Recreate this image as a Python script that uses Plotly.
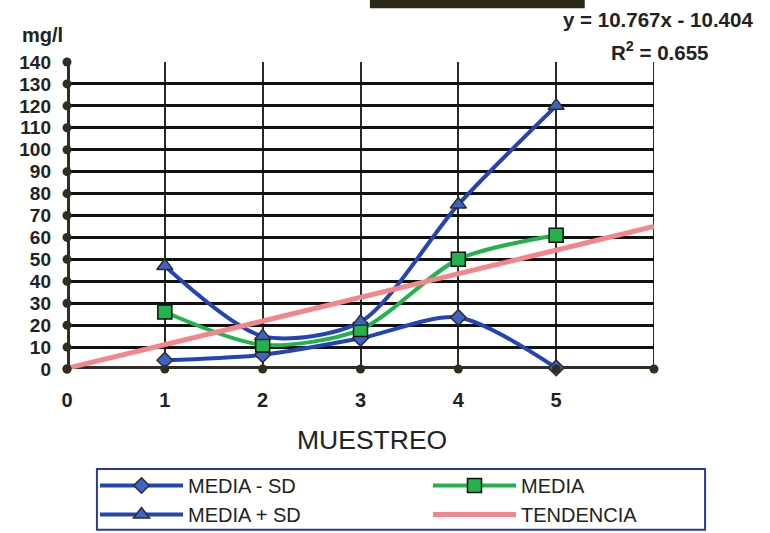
import plotly.graph_objects as go

# Sampling rounds and concentrations (mg/l)
muestreo = [1, 2, 3, 4, 5]
media_menos_sd = [4, 6.5, 14, 23.5, 0.5]
media = [26, 11, 18, 50, 61]
media_mas_sd = [47, 15, 21.5, 75, 120]

# Linear trend fitted on MEDIA (as reported)
slope = 10.767
intercept = -10.404
r2 = 0.655
x_max = 6
trend_x = [0, x_max]
trend_y = [slope * (x + 1) + intercept for x in trend_x]

x_ticks = [0, 1, 2, 3, 4, 5]
x_tick_labels = ["0", "1", "2", "3", "4", "5"]
y_ticks = list(range(0, 141, 10))

BLUE = "#2443b4"
GREEN = "#23b24c"
PINK = "#f2868a"
DARK = "#2e2e24"
FONT = "Liberation Sans, Arial, sans-serif"

fig = go.Figure()

fig.add_trace(go.Scatter(
    x=muestreo, y=media_menos_sd, name="MEDIA - SD", mode="lines+markers",
    line=dict(color=BLUE, width=4, shape="spline", smoothing=0.8),
    marker=dict(symbol="diamond", size=12, color="#3d62c8", line=dict(color=DARK, width=1.5)),
    cliponaxis=False, legend="legend",
))
fig.add_trace(go.Scatter(
    x=muestreo, y=media, name="MEDIA", mode="lines+markers",
    line=dict(color=GREEN, width=4, shape="spline", smoothing=0.8),
    marker=dict(symbol="square", size=14, color=GREEN, line=dict(color="#111", width=1.5)),
    cliponaxis=False, legend="legend2",
))
fig.add_trace(go.Scatter(
    x=muestreo, y=media_mas_sd, name="MEDIA + SD", mode="lines+markers",
    line=dict(color=BLUE, width=4, shape="spline", smoothing=0.8),
    marker=dict(symbol="triangle-up", size=14, color="#3d62c8", line=dict(color=DARK, width=1.5)),
    cliponaxis=False, legend="legend",
))
fig.add_trace(go.Scatter(
    x=trend_x, y=trend_y, name="TENDENCIA", mode="lines",
    line=dict(color=PINK, width=5),
    cliponaxis=False, legend="legend2",
))

# Rounded tick marks along both axes
dot_x = x_ticks + [x_max]
fig.add_trace(go.Scatter(
    x=dot_x, y=[0] * len(dot_x), mode="markers", showlegend=False, hoverinfo="skip",
    marker=dict(symbol="circle", size=9, color=DARK), cliponaxis=False,
))
fig.add_trace(go.Scatter(
    x=[0] * len(y_ticks), y=y_ticks, mode="markers", showlegend=False, hoverinfo="skip",
    marker=dict(symbol="circle", size=9, color=DARK), cliponaxis=False,
))

fig.update_xaxes(
    range=[0, x_max], tickvals=x_ticks, ticktext=x_tick_labels,
    showgrid=True, gridcolor="#2a2a22", gridwidth=2,
    showline=False, zeroline=False, ticks="", ticklabelstandoff=17,
    tickfont=dict(family=FONT, size=20, color="#222", weight="bold"),
)
fig.update_yaxes(
    range=[0, 140], tickvals=y_ticks,
    showgrid=True, gridcolor="#111", gridwidth=2.5,
    showline=False, zeroline=False, ticks="", ticklabelstandoff=15,
    tickfont=dict(family=FONT, size=19, color="#222", weight="bold"),
)

shapes = [
    # right edge of the plot area
    dict(type="line", xref="x", yref="y", x0=x_max, x1=x_max, y0=0, y1=140,
         line=dict(color="#2a2a22", width=2), layer="below"),
    # thick axis lines
    dict(type="line", xref="x", yref="y", x0=0, x1=x_max, y0=0, y1=0,
         line=dict(color=DARK, width=6), layer="below"),
    dict(type="line", xref="x", yref="y", x0=0, x1=0, y0=0, y1=140,
         line=dict(color=DARK, width=6), layer="below"),
    # title bar fragment at the top
    dict(type="rect", xref="paper", yref="paper", x0=0.516, x1=0.882, y0=1.175, y1=1.205,
         fillcolor="#2b2818", line=dict(width=0)),
    # legend frame
    dict(type="rect", xref="paper", yref="paper", x0=0.051, x1=1.087, y0=-0.524, y1=-0.3257,
         line=dict(color="#2a3a9a", width=2), fillcolor="rgba(0,0,0,0)"),
]

annotations = [
    dict(text="<b>mg/l</b>", xref="paper", yref="paper", x=-0.041, y=1.088,
         xanchor="center", yanchor="middle", showarrow=False,
         font=dict(family=FONT, size=20, color="#222")),
    dict(text="<b>y = 10.767x - 10.404</b>", xref="paper", yref="paper", x=1.172, y=1.14,
         xanchor="right", yanchor="middle", showarrow=False,
         font=dict(family=FONT, size=20.5, color="#222")),
    dict(text=f"<b>R<sup>2</sup> = {r2:.3f}</b>", xref="paper", yref="paper", x=1.095, y=1.036,
         xanchor="right", yanchor="middle", showarrow=False,
         font=dict(family=FONT, size=20.5, color="#222")),
    dict(text="MUESTREO", xref="paper", yref="paper", x=0.5196, y=-0.231,
         xanchor="center", yanchor="middle", showarrow=False,
         font=dict(family=FONT, size=26.5, color="#222")),
]

legend_style = dict(
    orientation="v", xanchor="left", xref="paper",
    y=0.1257, yanchor="top", yref="container",
    itemwidth=83, font=dict(family=FONT, size=20, color="#222"),
    bgcolor="rgba(0,0,0,0)", borderwidth=0, tracegroupgap=0,
    traceorder="normal",
)

fig.update_layout(
    width=770, height=533,
    margin=dict(l=67, r=116, t=62, b=164),
    paper_bgcolor="white", plot_bgcolor="white",
    shapes=shapes, annotations=annotations,
    showlegend=True,
    legend=dict(x=0.0477, **legend_style),
    legend2=dict(x=0.615, **legend_style),
)

fig.write_html("out.html")
